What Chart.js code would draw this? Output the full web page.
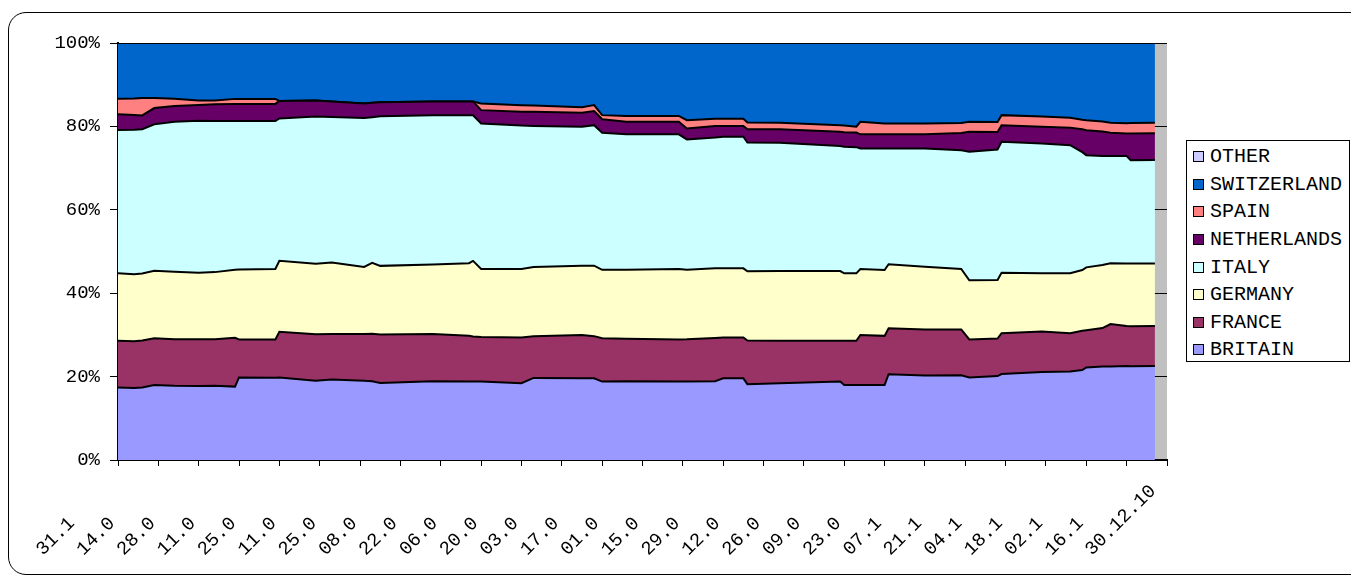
<!DOCTYPE html>
<html>
<head>
<meta charset="utf-8">
<title>Market share 2010</title>
<script src="https://cdn.jsdelivr.net/npm/chart.js@4.4.0/dist/chart.umd.min.js"></script>
<style>
  html, body { margin: 0; padding: 0; overflow: hidden; background: #fff; }
  #frame {
    position: absolute; left: 8px; top: 12px; width: 1370px; height: 561px;
    border: 1px solid #000; border-radius: 18px;
  }
  #chart { position: absolute; left: 0; top: 0; }
  #legend {
    position: absolute; left: 1186px; top: 140px; width: 164px; height: 222px;
    box-sizing: border-box; border: 1px solid #000; background: #fff;
    padding-top: 2px;
    font-family: 'Liberation Mono', monospace; font-size: 20px; color: #000;
  }
  #legend .row { height: 27.6px; display: flex; align-items: center; }
  #legend .sw {
    width: 9px; height: 9px; border: 1px solid #000;
    margin-left: 6px; margin-right: 6px;
  }
</style>
</head>
<body>
<div id="frame"></div>
<canvas id="chart" width="1351" height="577"></canvas>
<div id="legend"></div>

<script>
// business-day index of each sample (0 = 31.12.09)
const dayIndex = [0, 4, 6, 9, 14, 20, 24, 29, 30, 39,
                  40, 49, 53, 61, 63, 65, 78, 87, 88, 90,
                  100, 103, 115, 118, 120, 126, 139, 141, 148, 150,
                  155, 156, 164, 179, 180, 183, 184, 190, 191, 200,
                  209, 211, 218, 219, 229, 236, 239, 240, 244, 246,
                  250, 251, 257];

// one label every 10 business days
const dateLabels = ['31.12.09', '14.01.10', '28.01.10', '11.02.10', '25.02.10', '11.03.10',
                    '25.03.10', '08.04.10', '22.04.10', '06.05.10', '20.05.10', '03.06.10',
                    '17.06.10', '01.07.10', '15.07.10', '29.07.10', '12.08.10', '26.08.10',
                    '09.09.10', '23.09.10', '07.10.10', '21.10.10', '04.11.10', '18.11.10',
                    '02.12.10', '16.12.10', '30.12.10'];

// shares in %
const britain = [17.4, 17.3, 17.4, 18.0, 17.8, 17.8, 17.8, 17.6, 19.8, 19.7,
                 19.8, 19.0, 19.3, 19.0, 18.9, 18.5, 18.9, 18.8, 18.8, 18.8,
                 18.4, 19.7, 19.6, 19.6, 18.8, 18.9, 18.8, 18.8, 18.9, 19.6,
                 19.6, 18.2, 18.4, 18.8, 18.0, 18.0, 18.0, 18.0, 20.6, 20.3,
                 20.3, 19.8, 20.1, 20.6, 21.1, 21.2, 21.6, 22.2, 22.4, 22.4,
                 22.5, 22.5, 22.5];
const france = [11.2, 11.2, 11.3, 11.2, 11.2, 11.2, 11.2, 11.7, 9.1, 9.2,
                11.0, 11.1, 10.9, 11.2, 11.4, 11.6, 11.3, 11.0, 10.8, 10.7,
                11.0, 10.0, 10.4, 10.1, 10.4, 10.2, 10.1, 10.1, 10.4, 9.8,
                9.8, 10.5, 10.2, 9.8, 10.6, 10.6, 12.0, 11.8, 11.0, 11.0,
                11.0, 9.1, 9.0, 9.8, 9.7, 9.2, 9.4, 8.9, 9.2, 10.2,
                9.6, 9.6, 9.6];
const germany = [16.2, 16.1, 16.1, 16.2, 16.2, 16.0, 16.1, 16.3, 16.8, 16.9,
                 17.0, 16.9, 17.1, 16.1, 17.0, 16.5, 16.7, 17.4, 18.1, 16.3,
                 16.4, 16.6, 16.6, 16.9, 16.4, 16.5, 16.9, 16.7, 16.7, 16.6,
                 16.6, 16.6, 16.7, 16.7, 16.2, 16.2, 15.8, 15.8, 15.4, 15.1,
                 14.5, 14.2, 14.0, 14.5, 14.0, 14.4, 14.6, 15.1, 15.1, 14.6,
                 15.0, 15.0, 15.0];
const italy = [34.4, 34.7, 34.7, 35.1, 36.0, 36.5, 36.3, 35.7, 35.6, 35.5,
               34.2, 35.3, 34.9, 35.7, 34.9, 35.9, 35.8, 35.5, 34.9, 34.9,
               34.4, 33.9, 33.3, 33.7, 32.9, 32.5, 32.3, 31.2, 31.4, 31.6,
               31.6, 30.9, 30.8, 30.0, 30.4, 30.3, 28.9, 29.2, 27.8, 28.4,
               28.5, 30.8, 31.3, 31.4, 31.1, 30.7, 28.3, 26.9, 26.1, 25.7,
               25.7, 24.8, 24.8];
const netherlands = [3.8, 3.5, 3.3, 3.9, 3.8, 3.8, 4.0, 4.1, 4.1, 4.1,
                     4.2, 3.8, 3.7, 3.5, 3.5, 3.4, 3.3, 3.3, 3.3, 3.2,
                     3.3, 3.4, 3.4, 3.4, 3.2, 3.0, 3.0, 2.6, 2.8, 2.6,
                     2.6, 3.2, 3.2, 3.4, 3.5, 3.5, 3.4, 3.4, 3.4, 3.4,
                     4.1, 4.8, 4.2, 4.0, 4.0, 4.2, 5.5, 6.0, 5.9, 5.6,
                     5.4, 6.4, 6.4];
const spain = [3.7, 4.0, 4.2, 2.4, 1.7, 1.1, 0.9, 1.2, 1.2, 1.2,
               0.0, 0.0, 0.0, 0.0, 0.0, 0.0, 0.0, 0.0, 0.0, 1.6,
               1.6, 1.5, 1.3, 1.4, 1.0, 1.4, 1.4, 2.0, 1.7, 1.7,
               1.7, 1.6, 1.6, 1.6, 1.6, 1.4, 3.0, 2.6, 2.6, 2.6,
               2.4, 2.4, 2.4, 2.4, 2.5, 2.4, 2.3, 2.4, 2.4, 2.4,
               2.5, 2.5, 2.5];
const switzerland = [13.4, 13.3, 13.2, 13.2, 13.4, 13.8, 13.8, 13.4, 13.4, 13.4,
                     13.9, 13.8, 14.0, 14.5, 14.3, 14.2, 14.0, 14.0, 14.0, 14.5,
                     14.9, 15.0, 15.4, 14.9, 17.3, 17.5, 17.5, 18.5, 18.2, 18.2,
                     18.2, 19.1, 19.1, 19.7, 19.8, 20.1, 18.9, 19.3, 19.3, 19.3,
                     19.2, 18.9, 18.9, 17.3, 17.6, 17.9, 18.4, 18.5, 18.8, 19.1,
                     19.2, 19.2, 19.1];
const other = [0, 0, 0, 0, 0, 0, 0, 0, 0, 0,
               0, 0, 0, 0, 0, 0, 0, 0, 0, 0,
               0, 0, 0, 0, 0, 0, 0, 0, 0, 0,
               0, 0, 0, 0, 0, 0, 0, 0, 0, 0,
               0, 0, 0, 0, 0, 0, 0, 0, 0, 0,
               0, 0, 0];

const seriesNames = ['BRITAIN', 'FRANCE', 'GERMANY', 'ITALY', 'NETHERLANDS', 'SPAIN', 'SWITZERLAND', 'OTHER'];
const seriesValues = [britain, france, germany, italy, netherlands, spain, switzerland, other];
const seriesColors = ['#9999FF', '#993366', '#FFFFCC', '#CCFFFF', '#660066', '#FF8080', '#0066CC', '#CCCCFF'];

// 100% stacked: scale each sample to its total
const totals = dayIndex.map((d, i) => seriesValues.reduce((s, arr) => s + arr[i], 0));

const datasets = seriesNames.map((name, k) => ({
    label: name,
    data: dayIndex.map((d, i) => ({ x: d, y: seriesValues[k][i] / totals[i] * 100 })),
    backgroundColor: seriesColors[k],
    borderColor: '#000',
    borderWidth: 2,
    fill: k === 0 ? 'origin' : '-1',
    pointRadius: 0,
    tension: 0
}));

// grey plot area (shows at the right end where the data stops)
const plotBackground = {
    id: 'plotBackground',
    beforeDraw(chart) {
        const { ctx, chartArea: a } = chart;
        ctx.save();
        ctx.fillStyle = '#C0C0C0';
        ctx.fillRect(a.left, a.top, a.right - a.left, a.bottom - a.top);
        ctx.restore();
    }
};

const axisFont = { family: "'Liberation Mono', monospace", size: 19 };

new Chart(document.getElementById('chart'), {
    type: 'line',
    data: { datasets: datasets },
    plugins: [plotBackground],
    options: {
        responsive: false,
        animation: false,
        devicePixelRatio: 1,
        layout: { padding: { top: 43, right: 184, left: 0, bottom: 0 } },
        plugins: {
            legend: { display: false },
            tooltip: { enabled: false }
        },
        scales: {
            x: {
                type: 'linear',
                min: 0,
                max: 260,
                afterFit(scale) { scale.height = 117; },
                ticks: {
                    stepSize: 10,
                    autoSkip: false,
                    minRotation: 45,
                    maxRotation: 45,
                    padding: 14,
                    labelOffset: -14,
                    color: '#000',
                    font: axisFont,
                    // the long dates get cut off after 4 characters, except the last one
                    callback(value) {
                        const i = Math.round(value / 10);
                        const lbl = dateLabels[i] || '';
                        if (i === dateLabels.length - 1) return lbl;
                        return lbl.slice(0, 4) + ' '.repeat(lbl.length - 4);
                    }
                },
                grid: { drawOnChartArea: false, color: '#000', tickLength: 6 },
                border: { color: '#000', width: 2 }
            },
            y: {
                stacked: true,
                min: 0,
                max: 100,
                afterFit(scale) { scale.width = 118; },
                ticks: {
                    stepSize: 20,
                    padding: 10,
                    color: '#000',
                    font: axisFont,
                    callback: v => v + '%'
                },
                grid: { color: '#000', tickLength: 8 },
                border: { color: '#000', width: 2 }
            }
        }
    }
});

// legend, top entry first
const legend = document.getElementById('legend');
for (let k = seriesNames.length - 1; k >= 0; k--) {
    const row = document.createElement('div');
    row.className = 'row';
    const sw = document.createElement('span');
    sw.className = 'sw';
    sw.style.background = seriesColors[k];
    const txt = document.createElement('span');
    txt.textContent = seriesNames[k];
    row.appendChild(sw);
    row.appendChild(txt);
    legend.appendChild(row);
}
</script>
</body>
</html>
